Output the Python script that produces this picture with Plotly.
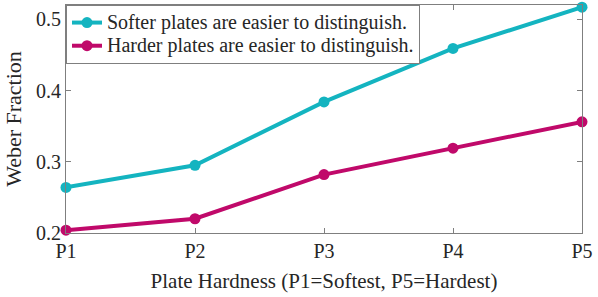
import plotly.graph_objects as go

categories = ["P1", "P2", "P3", "P4", "P5"]
softer = [0.264, 0.295, 0.384, 0.459, 0.517]
harder = [0.204, 0.220, 0.282, 0.319, 0.356]
series_names = ["Softer plates are easier to distinguish.", "Harder plates are easier to distinguish."]
colors = ["#14b4c0", "#c0096a"]

xs = list(range(1, len(categories) + 1))
fig = go.Figure()
for name, vals, col in zip(series_names, [softer, harder], colors):
    fig.add_trace(go.Scatter(x=xs, y=vals, mode="lines+markers",
                             name='<span style="font-size:20px">' + name + '</span>',
                             line=dict(color=col, width=4),
                             marker=dict(color=col, size=11),
                             cliponaxis=False))

font = "Liberation Serif, Times New Roman, serif"
fig.update_layout(
    width=598, height=297,
    margin=dict(l=66, r=16, t=5, b=64),
    plot_bgcolor="white", paper_bgcolor="white",
    font=dict(family=font, size=20, color="#262626"),
    showlegend=True,
    legend=dict(x=0, y=1, xanchor="left", yanchor="top",
                bgcolor="white", bordercolor="#7f7f7f", borderwidth=1,
                font=dict(size=15.5), itemwidth=30, tracegroupgap=0),
)
fig.update_xaxes(range=[1, 5], tickvals=xs, ticktext=categories,
                 showgrid=False, zeroline=False, showline=True, linecolor="#7f7f7f",
                 linewidth=1, mirror="allticks", ticks="inside", ticklen=5,
                 tickcolor="#7f7f7f", tickfont=dict(size=20),
                 title=dict(text="Plate Hardness (P1=Softest, P5=Hardest)", standoff=12,
                            font=dict(size=21)))
fig.update_yaxes(range=[0.2, 0.52], tickvals=[0.2, 0.3, 0.4, 0.5],
                 ticktext=["0.2", "0.3", "0.4", "0.5"],
                 showgrid=False, zeroline=False, showline=True, linecolor="#7f7f7f",
                 linewidth=1, mirror="allticks", ticks="inside", ticklen=5,
                 tickcolor="#7f7f7f", tickfont=dict(size=20),
                 title=dict(text="Weber Fraction", standoff=8, font=dict(size=22)))
fig.write_html("out.html", config={"displayModeBar": False},
               post_script="document.body.style.margin='0';")
